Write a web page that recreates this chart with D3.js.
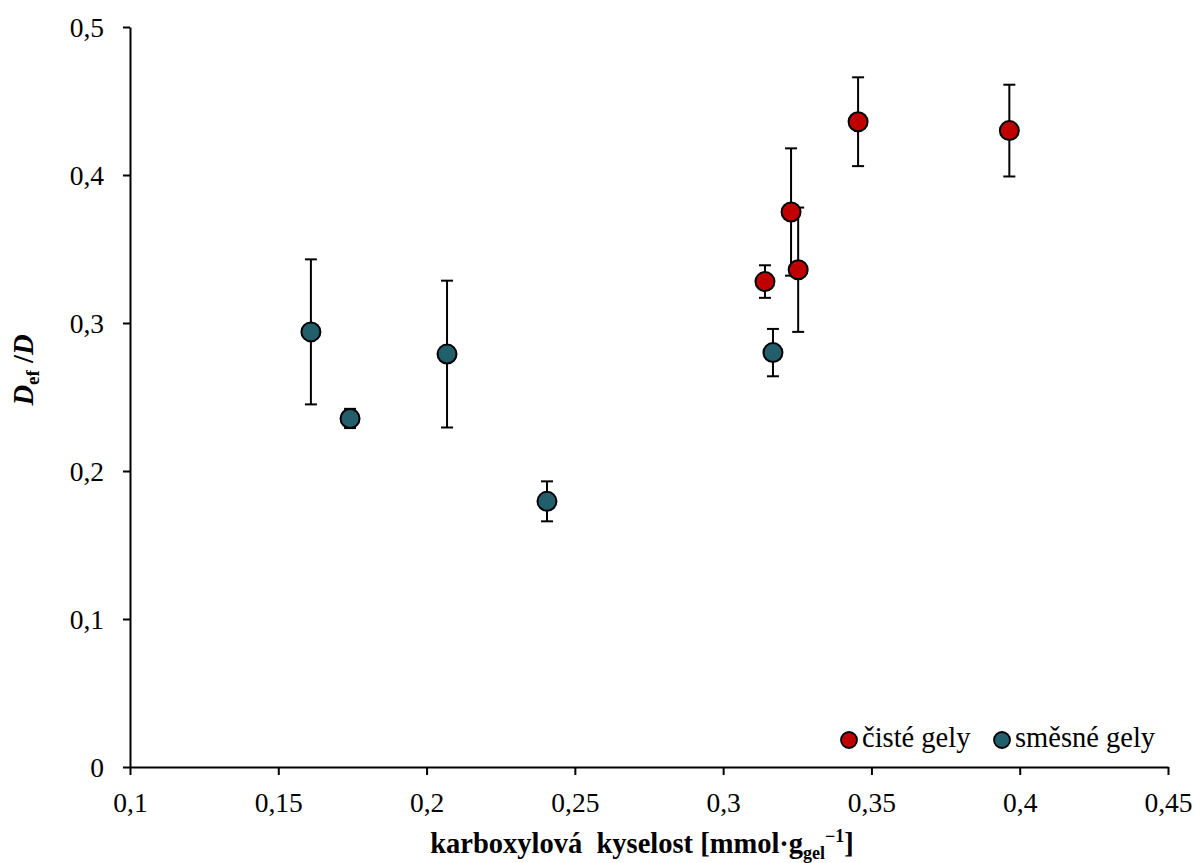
<!DOCTYPE html>
<html>
<head>
<meta charset="utf-8">
<script src="https://cdn.jsdelivr.net/npm/d3@7"></script>
<style>
  body { margin: 0; background: #fff; }
  svg text { font-family: "Liberation Serif", "Times New Roman", "DejaVu Serif", serif; }
</style>
</head>
<body>
<div id="chart"></div>
<script>
// Data
const cisteX = [0.3141, 0.3229, 0.3253, 0.3455, 0.3965];
const cisteY = [0.328, 0.375, 0.336, 0.436, 0.430];
const cisteErr = [0.011, 0.043, 0.042, 0.030, 0.031];

const smesneX = [0.161, 0.1742, 0.2069, 0.2406, 0.3168];
const smesneY = [0.294, 0.2355, 0.279, 0.1795, 0.280];
const smesneErr = [0.049, 0.0065, 0.0496, 0.0135, 0.016];

const xTicks = [0.1, 0.15, 0.2, 0.25, 0.3, 0.35, 0.4, 0.45];
const yTicks = [0, 0.1, 0.2, 0.3, 0.4, 0.5];

const series = [
  { name: "čisté gely", color: "#C00000", x: cisteX, y: cisteY, err: cisteErr },
  { name: "směsné gely", color: "#235E6C", x: smesneX, y: smesneY, err: smesneErr }
];

const FONT = "'Liberation Serif', 'Times New Roman', 'DejaVu Serif', serif";

// Dimensions
const width = 1195;
const height = 863;
const margin = { top: 27, right: 27, bottom: 96, left: 130 };

const svg = d3
  .select("#chart")
  .append("svg")
  .attr("width", width)
  .attr("height", height)
  .style("font-family", FONT);

const x = d3.scaleLinear().domain([0.1, 0.45]).range([margin.left, width - margin.right]);
const y = d3.scaleLinear().domain([0, 0.5]).range([height - margin.bottom, margin.top]);

const fmt = (d) => String(d).replace(".", ",");

// Axes
const xAxis = svg
  .append("g")
  .attr("transform", `translate(0,${y(0)})`)
  .call(d3.axisBottom(x).tickValues(xTicks).tickFormat(fmt).tickSize(8).tickSizeOuter(0));
const yAxis = svg
  .append("g")
  .attr("transform", `translate(${x(0.1)},0)`)
  .call(d3.axisLeft(y).tickValues(yTicks).tickFormat(fmt).tickSize(7).tickSizeOuter(0));

[xAxis, yAxis].forEach((g) => {
  g.attr("font-family", FONT).attr("font-size", 27.5);
  g.selectAll("path, line").attr("stroke", "#000").attr("stroke-width", 2);
  g.selectAll("text").attr("fill", "#000");
});
xAxis.selectAll("text").attr("y", 45).attr("dy", 0);
yAxis.selectAll("text").attr("x", -26).attr("dy", "0.34em");

// Error bars
series.forEach((s) => {
  const pts = s.x.map((v, i) => ({ x: v, y: s.y[i], e: s.err[i] }));
  const bars = svg.append("g").selectAll("g").data(pts).enter().append("g");
  bars
    .append("line")
    .attr("x1", (d) => x(d.x))
    .attr("x2", (d) => x(d.x))
    .attr("y1", (d) => y(d.y - d.e))
    .attr("y2", (d) => y(d.y + d.e));
  bars
    .append("line")
    .attr("x1", (d) => x(d.x) - 6)
    .attr("x2", (d) => x(d.x) + 6)
    .attr("y1", (d) => y(d.y + d.e))
    .attr("y2", (d) => y(d.y + d.e));
  bars
    .append("line")
    .attr("x1", (d) => x(d.x) - 6)
    .attr("x2", (d) => x(d.x) + 6)
    .attr("y1", (d) => y(d.y - d.e))
    .attr("y2", (d) => y(d.y - d.e));
  bars.selectAll("line").attr("stroke", "#000").attr("stroke-width", 2);
});

// Points
series.forEach((s) => {
  svg
    .append("g")
    .selectAll("circle")
    .data(s.x.map((v, i) => ({ x: v, y: s.y[i] })))
    .enter()
    .append("circle")
    .attr("cx", (d) => x(d.x))
    .attr("cy", (d) => y(d.y))
    .attr("r", 9.5)
    .attr("fill", s.color)
    .attr("stroke", "#000")
    .attr("stroke-width", 2);
});

// Legend
const legendPos = [849, 1002];
series.forEach((s, i) => {
  const lg = svg.append("g").attr("transform", `translate(${legendPos[i]},740)`);
  lg.append("circle").attr("r", 8).attr("fill", s.color).attr("stroke", "#000").attr("stroke-width", 1.8);
  lg.append("text")
    .attr("x", 13)
    .attr("dy", "0.25em")
    .attr("font-size", 28.5)
    .text(s.name);
});

// X axis title
const xt = svg
  .append("text")
  .attr("x", 642)
  .attr("y", 853)
  .attr("text-anchor", "middle")
  .attr("font-size", 28.5)
  .attr("font-weight", "bold");
xt.append("tspan").text("karboxylová\u00a0 kyselost [mmol·g");
xt.append("tspan").attr("dy", 6).attr("font-size", 18).text("gel");
xt.append("tspan").attr("dy", -17).attr("font-size", 18).text("\u22121");
xt.append("tspan").attr("dy", 11).text("]");

// Y axis title
const yt = svg
  .append("text")
  .attr("transform", "translate(33,370) rotate(-90)")
  .attr("text-anchor", "middle")
  .attr("font-size", 28.5)
  .attr("font-weight", "bold");
yt.append("tspan").attr("font-style", "italic").text("D");
yt.append("tspan").attr("dy", 6).attr("font-size", 19).text("ef");
yt.append("tspan").attr("dy", -6).text(" /");
yt.append("tspan").attr("font-style", "italic").text("D");
</script>
</body>
</html>
